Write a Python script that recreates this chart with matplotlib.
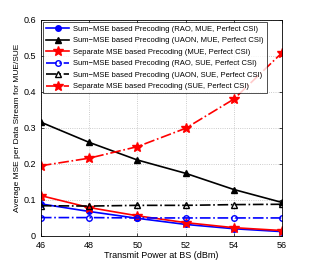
import matplotlib

matplotlib.use("Agg")
import matplotlib.pyplot as plt

power_dbm = [46, 48, 50, 52, 54, 56]

rao_mue = [0.089, 0.068, 0.049, 0.032, 0.020, 0.012]
uaon_mue = [0.316, 0.260, 0.211, 0.174, 0.129, 0.093]
sep_mue = [0.112, 0.079, 0.056, 0.037, 0.023, 0.015]
rao_sue = [0.051, 0.051, 0.050, 0.050, 0.050, 0.050]
uaon_sue = [0.084, 0.083, 0.085, 0.085, 0.087, 0.088]
sep_sue = [0.195, 0.216, 0.248, 0.299, 0.380, 0.509]

labels = [
    "Sum\u2212MSE based Precoding (RAO, MUE, Perfect CSI)",
    "Sum\u2212MSE based Precoding (UAON, MUE, Perfect CSI)",
    "Separate MSE based Precoding (MUE, Perfect CSI)",
    "Sum\u2212MSE based Precoding (RAO, SUE, Perfect CSI)",
    "Sum\u2212MSE based Precoding (UAON, SUE, Perfect CSI)",
    "Separate MSE based Precoding (SUE, Perfect CSI)",
]

plt.rcParams["font.family"] = ["Liberation Sans", "DejaVu Sans"]

fig = plt.figure(figsize=(3.12, 2.66), dpi=100)
ax = fig.add_axes([0.131, 0.113, 0.773, 0.812])

ax.plot(power_dbm, rao_mue, "-o", color="blue", lw=1.2, ms=4, mfc="blue", label=labels[0])
ax.plot(power_dbm, uaon_mue, "-^", color="black", lw=1.2, ms=4.5, mfc="black", label=labels[1])
ax.plot(power_dbm, sep_mue, "-*", color="red", lw=1.2, ms=7, mfc="red", label=labels[2])
ax.plot(power_dbm, rao_sue, "-.o", color="blue", lw=1.2, ms=4, mfc="none", label=labels[3])
ax.plot(power_dbm, uaon_sue, "-.^", color="black", lw=1.2, ms=4.5, mfc="none", label=labels[4])
ax.plot(power_dbm, sep_sue, "-.*", color="red", lw=1.2, ms=7, mfc="red", label=labels[5])

ax.set_xlim(46, 56)
ax.set_ylim(0, 0.6)
ax.set_xticks(power_dbm)
ax.set_yticks([0, 0.1, 0.2, 0.3, 0.4, 0.5, 0.6])
ax.set_yticklabels(["0", "0.1", "0.2", "0.3", "0.4", "0.5", "0.6"])
ax.tick_params(labelsize=6.5, direction="in", length=2, width=0.5, top=True, right=True)
ax.grid(True, linestyle=":", color="#bbbbbb", lw=0.6)
for s in ax.spines.values():
    s.set_linewidth(0.6)

ax.set_xlabel("Transmit Power at BS (dBm)", fontsize=6.5, labelpad=1)
ax.set_ylabel("Average MSE per Data Stream for MUE/SUE", fontsize=6, labelpad=2)

leg = ax.legend(loc="upper left", fontsize=5.5, fancybox=False, edgecolor="black",
                handlelength=3.0, borderaxespad=0.3, labelspacing=0.55,
                borderpad=0.4, handletextpad=0.5)
leg.get_frame().set_linewidth(0.6)

fig.savefig("out.png", dpi=100)
plt.close(fig)
